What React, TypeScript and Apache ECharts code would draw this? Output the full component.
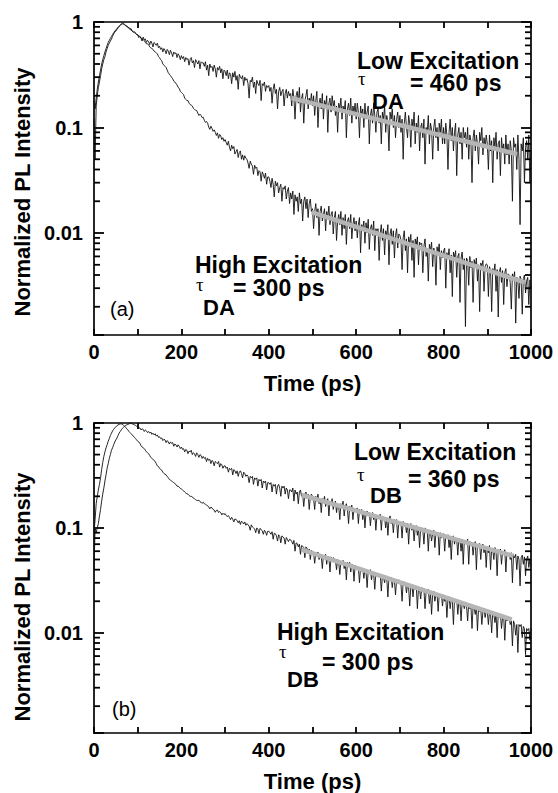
import React, { useEffect, useRef } from "react";
import * as echarts from "echarts";

// sampling step of the measured traces (ps)
const TIME_STEP_PS = 2.5;

// x tick labels (ps)
const X_TICK_LABELS = [0, 200, 400, 600, 800, 1000];
// minor log ticks
const Y_MINOR_TICKS = [
  0.002, 0.003, 0.004, 0.005, 0.006, 0.007, 0.008, 0.009,
  0.02, 0.03, 0.04, 0.05, 0.06, 0.07, 0.08, 0.09,
  0.2, 0.3, 0.4, 0.5, 0.6, 0.7, 0.8, 0.9,
];

// Panel (a) – low excitation, t = 0..1000 ps step 2.5 (two lines = 50 ps)
const LOW_A = [
  0.12, 0.05, 0.16, 0.2, 0.24, 0.27, 0.31, 0.36, 0.40, 0.44,
  0.47, 0.52, 0.56, 0.60, 0.63, 0.66, 0.69, 0.73, 0.77, 0.80,
  0.82, 0.85, 0.88, 0.91, 0.93, 0.96, 0.98, 0.97, 0.95, 0.93,
  0.92, 0.9, 0.88, 0.87, 0.86, 0.82, 0.80, 0.81, 0.79, 0.76,
  0.76, 0.71, 0.73, 0.70, 0.66, 0.72, 0.68, 0.69, 0.64, 0.67,
  0.65, 0.61, 0.66, 0.63, 0.58, 0.64, 0.62, 0.60, 0.63, 0.57,
  0.59, 0.55, 0.57, 0.52, 0.56, 0.54, 0.50, 0.55, 0.53, 0.49,
  0.54, 0.51, 0.47, 0.52, 0.50, 0.51, 0.46, 0.50, 0.48, 0.44,
  0.48, 0.45, 0.47, 0.42, 0.46, 0.44, 0.45, 0.39, 0.44, 0.46,
  0.41, 0.43, 0.37, 0.44, 0.42, 0.40, 0.43, 0.36, 0.42, 0.41,
  0.41, 0.38, 0.42, 0.35, 0.39, 0.31, 0.40, 0.37, 0.38, 0.34,
  0.39, 0.36, 0.30, 0.37, 0.35, 0.38, 0.33, 0.36, 0.29, 0.35,
  0.34, 0.31, 0.35, 0.29, 0.33, 0.32, 0.26, 0.33, 0.30, 0.34,
  0.28, 0.31, 0.23, 0.32, 0.30, 0.29, 0.31, 0.25, 0.30, 0.28,
  0.29, 0.26, 0.19, 0.28, 0.27, 0.30, 0.24, 0.27, 0.21, 0.28,
  0.26, 0.25, 0.28, 0.18, 0.26, 0.25, 0.27, 0.22, 0.25, 0.24,
  0.25, 0.22, 0.24, 0.17, 0.23, 0.26, 0.21, 0.23, 0.15, 0.22,
  0.24, 0.20, 0.22, 0.23, 0.16, 0.21, 0.23, 0.19, 0.22, 0.20,
  0.21, 0.16, 0.23, 0.19, 0.12, 0.20, 0.22, 0.17, 0.24, 0.14,
  0.19, 0.21, 0.11, 0.18, 0.20, 0.23, 0.15, 0.19, 0.17, 0.21,
  0.16, 0.20, 0.13, 0.18, 0.22, 0.10, 0.17, 0.19, 0.15, 0.21,
  0.12, 0.18, 0.16, 0.20, 0.09, 0.17, 0.19, 0.14, 0.20, 0.16,
  0.18, 0.13, 0.16, 0.09, 0.17, 0.15, 0.19, 0.12, 0.16, 0.14,
  0.18, 0.08, 0.15, 0.17, 0.13, 0.19, 0.11, 0.16, 0.14, 0.17,
  0.12, 0.17, 0.14, 0.08, 0.16, 0.13, 0.15, 0.10, 0.17, 0.12,
  0.14, 0.16, 0.07, 0.13, 0.15, 0.11, 0.17, 0.13, 0.09, 0.14,
  0.15, 0.11, 0.13, 0.07, 0.14, 0.12, 0.16, 0.09, 0.13, 0.11,
  0.06, 0.14, 0.12, 0.15, 0.10, 0.13, 0.08, 0.12, 0.14, 0.10,
  0.13, 0.09, 0.12, 0.05, 0.11, 0.14, 0.10, 0.08, 0.13, 0.11,
  0.065, 0.12, 0.10, 0.14, 0.07, 0.11, 0.09, 0.13, 0.06, 0.10,
  0.11, 0.08, 0.12, 0.045, 0.10, 0.09, 0.13, 0.07, 0.11, 0.095,
  0.05, 0.10, 0.12, 0.08, 0.10, 0.06, 0.11, 0.09, 0.12, 0.07,
  0.10, 0.07, 0.11, 0.085, 0.04, 0.09, 0.12, 0.075, 0.10, 0.06,
  0.09, 0.11, 0.035, 0.085, 0.10, 0.07, 0.09, 0.05, 0.10, 0.08,
  0.09, 0.065, 0.10, 0.05, 0.085, 0.075, 0.03, 0.08, 0.095, 0.06,
  0.085, 0.07, 0.045, 0.09, 0.075, 0.10, 0.055, 0.08, 0.065, 0.085,
  0.07, 0.04, 0.085, 0.06, 0.075, 0.03, 0.08, 0.065, 0.09, 0.05,
  0.07, 0.075, 0.035, 0.08, 0.06, 0.07, 0.045, 0.085, 0.055, 0.07,
  0.045, 0.075, 0.06, 0.02, 0.08, 0.065, 0.07, 0.04, 0.085, 0.05,
  0.012, 0.07, 0.06, 0.08, 0.03, 0.065, 0.075, 0.05, 0.085, 0.03,
  0.06,
];

// Panel (a) – high excitation
const HIGH_A = [
  0.18, 0.15, 0.19, 0.23, 0.27, 0.31, 0.35, 0.40, 0.44, 0.48,
  0.52, 0.56, 0.60, 0.64, 0.67, 0.70, 0.73, 0.76, 0.79, 0.82,
  0.84, 0.87, 0.89, 0.91, 0.93, 0.95, 0.96, 0.95, 0.94, 0.92,
  0.90, 0.89, 0.87, 0.85, 0.84, 0.82, 0.81, 0.79, 0.78, 0.76,
  0.75, 0.74, 0.73, 0.71, 0.69, 0.68, 0.67, 0.64, 0.62, 0.62,
  0.61, 0.58, 0.57, 0.56, 0.55, 0.53, 0.52, 0.51, 0.50, 0.47,
  0.46, 0.44, 0.43, 0.40, 0.39, 0.38, 0.37, 0.35, 0.33, 0.32,
  0.31, 0.30, 0.29, 0.275, 0.27, 0.26, 0.255, 0.24, 0.235, 0.22,
  0.215, 0.21, 0.205, 0.19, 0.185, 0.18, 0.18, 0.17, 0.165, 0.163,
  0.16, 0.152, 0.148, 0.146, 0.145, 0.137, 0.13, 0.134, 0.13, 0.124,
  0.125, 0.117, 0.112, 0.114, 0.11, 0.101, 0.096, 0.103, 0.098, 0.092,
  0.095, 0.09, 0.084, 0.089, 0.079, 0.086, 0.083, 0.077, 0.08, 0.074,
  0.077, 0.072, 0.068, 0.074, 0.065, 0.06, 0.068, 0.063, 0.066, 0.056,
  0.059, 0.062, 0.052, 0.058, 0.06, 0.05, 0.055, 0.049, 0.054, 0.051,
  0.05, 0.046, 0.041, 0.048, 0.045, 0.043, 0.036, 0.044, 0.041, 0.042,
  0.035, 0.039, 0.038, 0.031, 0.038, 0.036, 0.033, 0.037, 0.029, 0.034,
  0.034, 0.031, 0.027, 0.033, 0.029, 0.022, 0.031, 0.028, 0.03, 0.024,
  0.027, 0.029, 0.02, 0.027, 0.026, 0.028, 0.021, 0.025, 0.027, 0.019,
  0.024, 0.021, 0.025, 0.015, 0.023, 0.02, 0.022, 0.016, 0.024, 0.019,
  0.021, 0.013, 0.02, 0.022, 0.017, 0.021, 0.014, 0.019, 0.021, 0.016,
  0.017, 0.011, 0.016, 0.019, 0.014, 0.017, 0.0095, 0.016, 0.018, 0.013,
  0.015, 0.017, 0.0105, 0.016, 0.014, 0.018, 0.012, 0.015, 0.016, 0.0098,
  0.014, 0.016, 0.0085, 0.013, 0.015, 0.012, 0.016, 0.0095, 0.014, 0.011,
  0.015, 0.0078, 0.013, 0.014, 0.011, 0.015, 0.0088, 0.012, 0.014, 0.0105,
  0.013, 0.009, 0.012, 0.014, 0.0065, 0.012, 0.011, 0.013, 0.008, 0.0125,
  0.01, 0.0135, 0.007, 0.011, 0.012, 0.0095, 0.013, 0.0068, 0.011, 0.0105,
  0.011, 0.0055, 0.01, 0.012, 0.0085, 0.011, 0.0062, 0.0105, 0.0095, 0.012,
  0.005, 0.0098, 0.011, 0.0078, 0.0105, 0.0058, 0.0095, 0.011, 0.0072, 0.0098,
  0.0095, 0.0085, 0.0045, 0.009, 0.0105, 0.0068, 0.0088, 0.0042, 0.0092, 0.008,
  0.0097, 0.0055, 0.0085, 0.0038, 0.0088, 0.0078, 0.0092, 0.005, 0.0082, 0.0078,
  0.008, 0.0042, 0.0075, 0.0088, 0.006, 0.0072, 0.0035, 0.0078, 0.0068, 0.0082,
  0.0048, 0.0072, 0.0064, 0.0032, 0.0074, 0.0066, 0.0079, 0.0045, 0.0068, 0.0058,
  0.0068, 0.0072, 0.003, 0.0065, 0.0058, 0.0071, 0.0042, 0.0062, 0.0025, 0.0066,
  0.0059, 0.0068, 0.0038, 0.006, 0.0064, 0.0022, 0.0058, 0.0066, 0.0045, 0.0057,
  0.0013, 0.0058, 0.0055, 0.0032, 0.006, 0.0047, 0.0054, 0.0022, 0.0056, 0.0048,
  0.0058, 0.0035, 0.005, 0.0018, 0.0052, 0.0049, 0.0055, 0.0028, 0.0048, 0.0051,
  0.005, 0.0025, 0.0048, 0.0044, 0.0018, 0.0046, 0.0042, 0.0051, 0.0028, 0.0045,
  0.0016, 0.0043, 0.0047, 0.0034, 0.0044, 0.0021, 0.0042, 0.0046, 0.0031, 0.0041,
  0.004, 0.0034, 0.0019, 0.0041, 0.0037, 0.0043, 0.0014, 0.0038, 0.0035, 0.0024,
  0.0039, 0.0036, 0.0017, 0.0037, 0.004, 0.0027, 0.0035, 0.0038, 0.0021, 0.0036,
  0.003,
];

// Panel (b) – low excitation
const LOW_B = [
  0.04, 0.10, 0.09, 0.10, 0.11, 0.13, 0.15, 0.18, 0.21, 0.24,
  0.28, 0.32, 0.37, 0.41, 0.46, 0.50, 0.55, 0.58, 0.62, 0.66,
  0.69, 0.72, 0.76, 0.80, 0.83, 0.86, 0.89, 0.91, 0.93, 0.95,
  0.96, 0.97, 0.98, 0.99, 1.0, 0.98, 0.97, 0.96, 0.95, 0.93,
  0.92, 0.89, 0.90, 0.86, 0.88, 0.87, 0.83, 0.86, 0.84, 0.81,
  0.83, 0.80, 0.82, 0.78, 0.80, 0.77, 0.79, 0.75, 0.77, 0.73,
  0.74, 0.71, 0.72, 0.68, 0.70, 0.69, 0.65, 0.68, 0.66, 0.63,
  0.66, 0.64, 0.65, 0.60, 0.63, 0.62, 0.59, 0.62, 0.60, 0.57,
  0.59, 0.56, 0.57, 0.53, 0.56, 0.55, 0.51, 0.54, 0.53, 0.55,
  0.50, 0.52, 0.51, 0.48, 0.52, 0.50, 0.47, 0.50, 0.49, 0.46,
  0.48, 0.46, 0.47, 0.43, 0.46, 0.44, 0.45, 0.41, 0.44, 0.43,
  0.39, 0.43, 0.42, 0.41, 0.43, 0.38, 0.41, 0.40, 0.37, 0.39,
  0.39, 0.37, 0.38, 0.34, 0.37, 0.36, 0.37, 0.32, 0.36, 0.35,
  0.33, 0.35, 0.31, 0.34, 0.35, 0.33, 0.30, 0.34, 0.33, 0.31,
  0.32, 0.31, 0.27, 0.31, 0.30, 0.31, 0.26, 0.30, 0.29, 0.30,
  0.25, 0.29, 0.28, 0.29, 0.24, 0.28, 0.27, 0.28, 0.23, 0.27,
  0.27, 0.26, 0.27, 0.22, 0.26, 0.25, 0.26, 0.21, 0.25, 0.26,
  0.24, 0.20, 0.25, 0.24, 0.25, 0.21, 0.24, 0.23, 0.19, 0.23,
  0.23, 0.22, 0.24, 0.18, 0.23, 0.21, 0.22, 0.17, 0.22, 0.23,
  0.20, 0.21, 0.16, 0.21, 0.22, 0.19, 0.21, 0.15, 0.20, 0.21,
  0.20, 0.19, 0.15, 0.20, 0.18, 0.21, 0.17, 0.19, 0.14, 0.19,
  0.18, 0.20, 0.16, 0.18, 0.19, 0.13, 0.18, 0.17, 0.19, 0.15,
  0.17, 0.18, 0.14, 0.17, 0.16, 0.12, 0.17, 0.16, 0.18, 0.13,
  0.16, 0.17, 0.15, 0.11, 0.16, 0.155, 0.165, 0.12, 0.155, 0.15,
  0.15, 0.155, 0.11, 0.15, 0.14, 0.15, 0.12, 0.145, 0.10, 0.14,
  0.145, 0.13, 0.14, 0.105, 0.135, 0.14, 0.12, 0.135, 0.095, 0.13,
  0.13, 0.125, 0.135, 0.095, 0.13, 0.12, 0.125, 0.10, 0.125, 0.085,
  0.12, 0.13, 0.11, 0.12, 0.09, 0.12, 0.115, 0.12, 0.08, 0.115,
  0.115, 0.11, 0.08, 0.115, 0.105, 0.11, 0.09, 0.11, 0.07, 0.105,
  0.11, 0.095, 0.105, 0.075, 0.10, 0.105, 0.085, 0.10, 0.065, 0.10,
  0.10, 0.095, 0.07, 0.10, 0.09, 0.095, 0.06, 0.095, 0.09, 0.075,
  0.09, 0.095, 0.065, 0.09, 0.085, 0.09, 0.055, 0.09, 0.08, 0.085,
  0.088, 0.06, 0.085, 0.08, 0.086, 0.065, 0.082, 0.05, 0.08, 0.084,
  0.07, 0.08, 0.078, 0.055, 0.08, 0.076, 0.06, 0.078, 0.045, 0.076,
  0.075, 0.07, 0.078, 0.045, 0.074, 0.068, 0.072, 0.055, 0.07, 0.074,
  0.04, 0.07, 0.066, 0.071, 0.05, 0.068, 0.07, 0.058, 0.067, 0.042,
  0.066, 0.058, 0.068, 0.04, 0.064, 0.062, 0.05, 0.065, 0.06, 0.035,
  0.062, 0.058, 0.063, 0.045, 0.06, 0.057, 0.062, 0.038, 0.059, 0.056,
  0.057, 0.05, 0.058, 0.03, 0.055, 0.052, 0.056, 0.04, 0.054, 0.05,
  0.028, 0.052, 0.055, 0.045, 0.053, 0.035, 0.05, 0.054, 0.042, 0.05,
  0.043,
];

// Panel (b) – high excitation
const HIGH_B = [
  0.09, 0.12, 0.17, 0.20, 0.23, 0.26, 0.30, 0.36, 0.42, 0.48,
  0.53, 0.58, 0.62, 0.67, 0.71, 0.76, 0.80, 0.84, 0.87, 0.90,
  0.92, 0.94, 0.96, 0.97, 0.98, 0.98, 0.97, 0.95, 0.93, 0.91,
  0.88, 0.86, 0.83, 0.81, 0.79, 0.77, 0.75, 0.73, 0.71, 0.69,
  0.67, 0.66, 0.64, 0.61, 0.59, 0.58, 0.57, 0.55, 0.53, 0.52,
  0.51, 0.49, 0.47, 0.46, 0.45, 0.44, 0.43, 0.41, 0.39, 0.385,
  0.37, 0.36, 0.355, 0.34, 0.33, 0.325, 0.32, 0.31, 0.30, 0.29,
  0.285, 0.28, 0.275, 0.27, 0.265, 0.26, 0.25, 0.25, 0.245, 0.238,
  0.235, 0.23, 0.226, 0.22, 0.215, 0.212, 0.21, 0.204, 0.20, 0.20,
  0.198, 0.192, 0.19, 0.186, 0.183, 0.182, 0.184, 0.178, 0.175, 0.172,
  0.176, 0.17, 0.168, 0.165, 0.163, 0.158, 0.152, 0.158, 0.155, 0.15,
  0.148, 0.141, 0.147, 0.148, 0.14, 0.143, 0.14, 0.133, 0.138, 0.134,
  0.137, 0.132, 0.128, 0.131, 0.126, 0.12, 0.126, 0.121, 0.114, 0.122,
  0.12, 0.118, 0.112, 0.117, 0.108, 0.116, 0.113, 0.109, 0.114, 0.106,
  0.11, 0.107, 0.104, 0.095, 0.107, 0.102, 0.10, 0.098, 0.09, 0.10,
  0.097, 0.088, 0.099, 0.096, 0.094, 0.087, 0.095, 0.092, 0.085, 0.093,
  0.093, 0.09, 0.087, 0.092, 0.078, 0.089, 0.088, 0.084, 0.075, 0.086,
  0.083, 0.072, 0.084, 0.082, 0.08, 0.07, 0.081, 0.078, 0.074, 0.078,
  0.077, 0.074, 0.07, 0.076, 0.06, 0.072, 0.071, 0.066, 0.07, 0.056,
  0.068, 0.067, 0.065, 0.052, 0.066, 0.064, 0.06, 0.063, 0.05, 0.061,
  0.06, 0.058, 0.046, 0.058, 0.056, 0.059, 0.05, 0.056, 0.054, 0.041,
  0.055, 0.053, 0.056, 0.045, 0.054, 0.052, 0.038, 0.053, 0.05, 0.052,
  0.051, 0.049, 0.04, 0.05, 0.047, 0.036, 0.048, 0.046, 0.049, 0.041,
  0.046, 0.032, 0.047, 0.045, 0.047, 0.038, 0.045, 0.044, 0.031, 0.044,
  0.043, 0.04, 0.042, 0.03, 0.042, 0.039, 0.041, 0.033, 0.04, 0.038,
  0.027, 0.039, 0.037, 0.04, 0.032, 0.038, 0.036, 0.026, 0.037, 0.035,
  0.037, 0.034, 0.036, 0.025, 0.035, 0.034, 0.03, 0.035, 0.033, 0.022,
  0.034, 0.032, 0.034, 0.027, 0.033, 0.031, 0.023, 0.032, 0.03, 0.032,
  0.031, 0.029, 0.02, 0.031, 0.029, 0.03, 0.024, 0.029, 0.027, 0.018,
  0.028, 0.029, 0.022, 0.028, 0.026, 0.028, 0.017, 0.027, 0.026, 0.021,
  0.027, 0.025, 0.026, 0.017, 0.025, 0.024, 0.026, 0.019, 0.024, 0.015,
  0.024, 0.025, 0.02, 0.023, 0.024, 0.016, 0.023, 0.022, 0.023, 0.018,
  0.023, 0.02, 0.022, 0.014, 0.021, 0.022, 0.017, 0.021, 0.02, 0.012,
  0.021, 0.02, 0.021, 0.015, 0.02, 0.019, 0.013, 0.02, 0.019, 0.017,
  0.019, 0.018, 0.013, 0.019, 0.017, 0.018, 0.011, 0.018, 0.017, 0.015,
  0.018, 0.0105, 0.017, 0.016, 0.017, 0.012, 0.016, 0.017, 0.014, 0.016,
  0.016, 0.012, 0.016, 0.015, 0.01, 0.016, 0.015, 0.0125, 0.015, 0.009,
  0.015, 0.014, 0.015, 0.011, 0.014, 0.0145, 0.0085, 0.014, 0.013, 0.014,
  0.014, 0.012, 0.013, 0.0075, 0.013, 0.012, 0.0095, 0.012, 0.0065, 0.012,
  0.0115, 0.012, 0.009, 0.0115, 0.011, 0.0062, 0.011, 0.0105, 0.011, 0.0085,
  0.011,
];

// single-exponential fits (start / end points)
const FIT_LOW_A = [[452, 0.19], [968, 0.056]];
const FIT_HIGH_A = [[498, 0.0158], [986, 0.0034]];
const FIT_LOW_B = [[475, 0.206], [960, 0.054]];
const FIT_HIGH_B = [[475, 0.062], [956, 0.0134]];

const Y_MIN = [0.00108, 0.00111];

const FONT = "'Liberation Sans', Arial, Helvetica, sans-serif";

const toPairs = (arr: number[]) => arr.map((v, i) => [i * TIME_STEP_PS, v]);

function buildOption() {
  const grids = [
    { left: 94, top: 22, width: 437, height: 313 },
    { left: 94, top: 423, width: 437, height: 311 },
  ];
  const mkLine = () => ({ show: true, onZero: false, lineStyle: { color: "#000", width: 1.7 } });
  const mkTick = (len: number) => ({ show: true, inside: true, length: len, lineStyle: { color: "#000", width: 1.8 } });
  const xAxes: any[] = [];
  const yAxes: any[] = [];
  const series: any[] = [];
  [0, 1].forEach((g) => {
    xAxes.push({
      type: "value", gridIndex: g, min: 0, max: 1000, interval: 100, position: "bottom",
      axisLine: mkLine(), axisTick: mkTick(6),
      axisLabel: {
        formatter: (v: number) => (X_TICK_LABELS.includes(v) ? String(v) : ""),
        color: "#000", fontSize: 20, fontWeight: "bold", fontFamily: FONT, margin: 7,
      },
      splitLine: { show: false },
      name: "Time (ps)", nameLocation: "middle", nameGap: 37,
      nameTextStyle: { color: "#000", fontSize: 22, fontWeight: "bold", fontFamily: FONT },
    });
    xAxes.push({
      type: "value", gridIndex: g, min: 0, max: 1000, interval: 100, position: "top",
      axisLine: mkLine(), axisTick: mkTick(6),
      axisLabel: { show: false }, splitLine: { show: false },
    });
    const yLabelFmt = (v: number) => {
      const l = Math.log10(v);
      const e = Math.round(l);
      if (Math.abs(l - e) > 1e-6 || e < -2) return "";
      return String(Math.pow(10, e));
    };
    yAxes.push({
      type: "log", logBase: 10, gridIndex: g, min: Y_MIN[g], max: 1, position: "left",
      axisLine: mkLine(), axisTick: mkTick(10),
      axisLabel: { formatter: yLabelFmt, color: "#000", fontSize: 20, fontWeight: "bold", fontFamily: FONT, margin: 11 },
      splitLine: { show: false },
    });
    yAxes.push({
      type: "log", logBase: 10, gridIndex: g, min: Y_MIN[g], max: 1, position: "right",
      axisLine: mkLine(), axisTick: mkTick(10),
      axisLabel: { show: false }, splitLine: { show: false },
    });
    const xi = g * 2;
    const yi = g * 2;
    const low = g === 0 ? LOW_A : LOW_B;
    const high = g === 0 ? HIGH_A : HIGH_B;
    const fitLow = g === 0 ? FIT_LOW_A : FIT_LOW_B;
    const fitHigh = g === 0 ? FIT_HIGH_A : FIT_HIGH_B;
    const dataStyle = { color: "#111", width: 0.9 };
    series.push({
      name: "High Excitation", type: "line", xAxisIndex: xi, yAxisIndex: yi,
      data: toPairs(high), showSymbol: false, lineStyle: dataStyle, z: 2, silent: true,
    });
    series.push({
      name: "Low Excitation", type: "line", xAxisIndex: xi, yAxisIndex: yi,
      data: toPairs(low), showSymbol: false, lineStyle: dataStyle, z: 2, silent: true,
    });
    [fitLow, fitHigh].forEach((f) => {
      series.push({
        type: "line", xAxisIndex: xi, yAxisIndex: yi, data: f, showSymbol: false,
        lineStyle: { color: "#b5b5b5", width: 4.5 }, z: 3, silent: true,
      });
    });
    series.push({
      type: "custom", xAxisIndex: xi, yAxisIndex: yi, silent: true, z: 5,
      data: Y_MINOR_TICKS.filter((v) => v > Y_MIN[g]).map((v) => [0, v]),
      renderItem: (_p: any, api: any) => {
        const v = api.value(1);
        const p0 = api.coord([0, v]);
        const p1 = api.coord([1000, v]);
        const st = { stroke: "#000", lineWidth: 1.8 };
        return {
          type: "group",
          children: [
            { type: "line", shape: { x1: p0[0], y1: p0[1], x2: p0[0] + 6, y2: p0[1] }, style: st },
            { type: "line", shape: { x1: p1[0], y1: p1[1], x2: p1[0] - 6, y2: p1[1] }, style: st },
          ],
        };
      },
    });
  });

  const bold = (size: number) => `bold ${size}px ${FONT}`;
  const txt = (text: string, x: number, y: number, font: string, extra: any = {}) => ({
    type: "text", x, y, silent: true, z: 10, ...extra,
    style: { text, fill: "#000", font, align: "left", verticalAlign: "middle", ...(extra.style || {}) },
  });
  const tauFont = `19px 'Liberation Serif', 'DejaVu Serif', serif`;
  const graphic = [
    txt("Normalized PL Intensity", 22, 192, bold(22), { rotation: Math.PI / 2, style: { align: "center" } }),
    txt("Normalized PL Intensity", 22, 597, bold(22), { rotation: Math.PI / 2, style: { align: "center" } }),
    // panel a
    txt("Low Excitation", 357, 61, bold(23)),
    txt("τ", 358, 78, tauFont),
    txt("= 460 ps", 410, 83, bold(23)),
    txt("DA", 372, 101, bold(22)),
    txt("High Excitation", 195, 265, bold(23)),
    txt("τ", 196, 284, tauFont),
    txt("= 300 ps", 233, 288, bold(23)),
    txt("DA", 203, 307, bold(22)),
    txt("(a)", 110, 309, `20px ${FONT}`),
    // panel b
    txt("Low Excitation", 354, 452, bold(23)),
    txt("τ", 357, 474, tauFont),
    txt("= 360 ps", 408, 479, bold(23)),
    txt("DB", 370, 495, bold(22)),
    txt("High Excitation", 277, 632, bold(23)),
    txt("τ", 279, 651, tauFont),
    txt("= 300 ps", 322, 662, bold(23)),
    txt("DB", 287, 679, bold(22)),
    txt("(b)", 112, 709, `20px ${FONT}`),
  ];

  return {
    animation: false,
    backgroundColor: "#fff",
    textStyle: { fontFamily: FONT },
    grid: grids,
    xAxis: xAxes,
    yAxis: yAxes,
    series,
    graphic,
  };
}

export default function App() {
  const ref = useRef<HTMLDivElement>(null);
  useEffect(() => {
    if (!ref.current) return;
    const chart = echarts.init(ref.current, undefined, { renderer: "svg" });
    chart.setOption(buildOption() as any);
    return () => chart.dispose();
  }, []);
  return (
    <div
      ref={ref}
      style={{ position: "fixed", left: 0, top: 0, width: 558, height: 793, background: "#fff" }}
    />
  );
}
